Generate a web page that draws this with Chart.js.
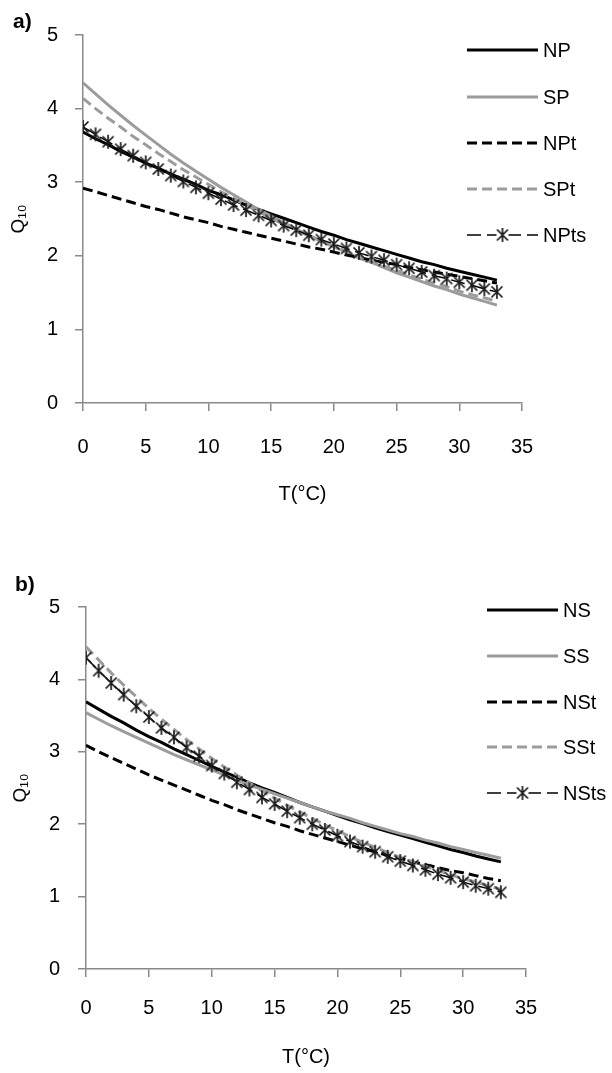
<!DOCTYPE html>
<html><head><meta charset="utf-8">
<script src="https://cdn.jsdelivr.net/npm/chart.js@4.4.1/dist/chart.umd.min.js"></script>
<style>
html,body{margin:0;padding:0;background:#fff;width:612px;height:1073px;overflow:hidden;}
canvas{position:absolute;left:0;}
#ca{top:0;}
#cb{top:515px;}
</style></head><body>
<canvas id="ca" width="612" height="515"></canvas>
<canvas id="cb" width="612" height="558"></canvas>
<script>
// ---- data ----
const T = [0,1,2,3,4,5,6,7,8,9,10,11,12,13,14,15,16,17,18,19,20,21,22,23,24,25,26,27,28,29,30,31,32,33];
const xTicks = [0,5,10,15,20,25,30,35];
const yTicks = [0,1,2,3,4,5];

const namesA = ['NP','SP','NPt','SPt','NPts'];
const NP   = [3.68,3.59,3.51,3.42,3.34,3.26,3.19,3.11,3.04,2.97,2.89,2.83,2.76,2.69,2.63,2.57,2.51,2.45,2.39,2.33,2.28,2.22,2.17,2.12,2.07,2.02,1.97,1.92,1.88,1.83,1.79,1.75,1.71,1.67];
const SP   = [4.35,4.20,4.05,3.91,3.77,3.64,3.51,3.38,3.26,3.15,3.04,2.93,2.83,2.73,2.63,2.54,2.45,2.36,2.28,2.20,2.12,2.05,1.97,1.91,1.84,1.77,1.71,1.65,1.59,1.54,1.48,1.43,1.38,1.33];
const NPt  = [2.92,2.87,2.82,2.77,2.72,2.67,2.63,2.58,2.53,2.49,2.45,2.40,2.36,2.32,2.28,2.24,2.20,2.16,2.12,2.09,2.05,2.01,1.98,1.94,1.91,1.88,1.84,1.81,1.78,1.75,1.72,1.69,1.66,1.63];
const SPt  = [4.14,4.00,3.87,3.75,3.62,3.51,3.39,3.28,3.17,3.07,2.97,2.87,2.78,2.69,2.60,2.51,2.43,2.35,2.27,2.20,2.13,2.06,1.99,1.92,1.86,1.80,1.74,1.68,1.63,1.58,1.52,1.47,1.43,1.38];
const NPts = [3.75,3.65,3.55,3.45,3.36,3.27,3.18,3.09,3.01,2.93,2.85,2.77,2.69,2.62,2.55,2.48,2.41,2.35,2.28,2.22,2.16,2.10,2.04,1.99,1.94,1.88,1.83,1.78,1.73,1.69,1.64,1.60,1.55,1.51];

const namesB = ['NS','SS','NSt','SSt','NSts'];
const NS   = [3.69,3.59,3.49,3.40,3.30,3.21,3.13,3.04,2.96,2.88,2.80,2.72,2.65,2.57,2.50,2.44,2.37,2.30,2.24,2.18,2.12,2.06,2.01,1.95,1.90,1.85,1.80,1.75,1.70,1.65,1.61,1.56,1.52,1.48];
const SS   = [3.54,3.45,3.36,3.28,3.20,3.12,3.04,2.96,2.89,2.82,2.75,2.68,2.61,2.54,2.48,2.42,2.36,2.30,2.24,2.18,2.13,2.08,2.02,1.97,1.92,1.87,1.83,1.78,1.74,1.69,1.65,1.61,1.57,1.53];
const NSt  = [3.09,3.00,2.92,2.84,2.76,2.68,2.61,2.54,2.47,2.40,2.33,2.27,2.20,2.14,2.08,2.02,1.97,1.91,1.86,1.81,1.76,1.71,1.66,1.62,1.57,1.53,1.48,1.44,1.40,1.36,1.33,1.29,1.25,1.22];
const SSt  = [4.45,4.27,4.09,3.92,3.76,3.60,3.45,3.31,3.17,3.04,2.91,2.79,2.68,2.57,2.46,2.36,2.26,2.17,2.08,1.99,1.91,1.83,1.75,1.68,1.61,1.54,1.48,1.42,1.36,1.30,1.25,1.20,1.15,1.10];
const NSts = [4.30,4.12,3.95,3.79,3.63,3.48,3.33,3.20,3.06,2.94,2.81,2.70,2.58,2.48,2.37,2.28,2.18,2.09,2.00,1.92,1.84,1.76,1.69,1.62,1.55,1.49,1.43,1.37,1.31,1.26,1.20,1.15,1.11,1.06];

// ---- styles ----
const FONT = '"Liberation Sans", Arial, Helvetica, sans-serif';
const GRAY = '#9c9c9c';
const AXIS = '#8a8a8a';

// Excel-like star marker (X plus vertical bar)
const star = document.createElement('canvas');
star.width = 16; star.height = 16;
(function(){
  const c = star.getContext('2d');
  c.strokeStyle = '#1a1a1a'; c.lineWidth = 1.7; c.lineCap = 'butt';
  c.beginPath();
  c.moveTo(8,1); c.lineTo(8,15);
  c.moveTo(2.5,2.5); c.lineTo(13.5,13.5);
  c.moveTo(13.5,2.5); c.lineTo(2.5,13.5);
  c.stroke();
})();

const styles = [
  {color:'#000', width:3, dash:[], order:5},
  {color:GRAY, width:3, dash:[], order:4},
  {color:'#000', width:3, dash:[10,5], order:3},
  {color:GRAY, width:3, dash:[10,5], order:2},
  {color:'#000', width:1.5, dash:[14,6], order:1, marker:true}
];

function ds(name, vals, st){
  return {
    label: name,
    data: T.map((t,i)=>({x:t, y:vals[i]})),
    borderColor: st.color, backgroundColor: st.color,
    borderWidth: st.width, borderDash: st.dash,
    pointRadius: st.marker ? 8 : 0,
    pointStyle: st.marker ? star : 'circle',
    pointHoverRadius: 0,
    tension: 0, fill: false, order: st.order
  };
}

const legendPlugin = {
  id: 'customLegend',
  afterDraw(chart){
    const o = chart.options.plugins.customLegend;
    if (!o) return;
    const ctx = chart.ctx;
    ctx.save();
    chart.data.datasets.forEach((d, i) => {
      const y = o.rows[i];
      ctx.beginPath();
      ctx.setLineDash(d.borderDash || []);
      ctx.strokeStyle = d.borderColor;
      ctx.lineWidth = d.borderWidth;
      ctx.moveTo(o.x0, y); ctx.lineTo(o.x1, y);
      ctx.stroke();
      ctx.setLineDash([]);
      if (d.pointStyle === star) {
        ctx.fillStyle = '#fff';
        ctx.fillRect((o.x0+o.x1)/2 - 6, y - 2, 12, 4);
        ctx.drawImage(star, (o.x0+o.x1)/2 - star.width/2, y - star.height/2);
      }
      ctx.fillStyle = '#000';
      ctx.font = '20px ' + FONT;
      ctx.textAlign = 'left';
      ctx.textBaseline = 'middle';
      ctx.fillText(d.label, o.tx, y + 1);
    });
    const p = chart.options.plugins.panelLabel;
    ctx.font = 'bold 21px ' + FONT;
    ctx.fillStyle = '#000';
    ctx.textAlign = 'left';
    ctx.textBaseline = 'middle';
    ctx.fillText(p.text, p.x, p.y);
    ctx.restore();
  }
};

function makeChart(el, names, series, L){
  return new Chart(el, {
    type: 'line',
    data: { datasets: names.map((n,i)=>ds(n, series[i], styles[i])) },
    options: {
      responsive: false, animation: false, devicePixelRatio: 1,
      layout: { padding: { left: 0, right: L.padRight, top: L.padTop, bottom: 0 } },
      plugins: {
        legend: { display: false }, tooltip: { enabled: false },
        customLegend: L.legend, panelLabel: L.label
      },
      scales: {
        x: {
          type: 'linear', min: 0, max: 35,
          afterBuildTicks(s){ s.ticks = xTicks.map(v=>({value:v})); },
          ticks: { padding: L.xTickPad, color: '#000', font: { size: 20, family: FONT } },
          grid: { drawOnChartArea: false, drawTicks: true, tickLength: 8, color: AXIS, lineWidth: 1.5 },
          border: { color: AXIS, width: 1.5 },
          title: { display: true, text: 'T(°C)', color: '#000', font: { size: 20, family: FONT }, padding: { top: 0, bottom: L.xTitlePad } },
          afterFit(s){ s.height = L.xH; s.paddingLeft = 0; s.paddingRight = 0; }
        },
        y: {
          min: 0, max: 5,
          afterBuildTicks(s){ s.ticks = yTicks.map(v=>({value:v})); },
          ticks: { padding: L.yTickPad, color: '#000', font: { size: 20, family: FONT } },
          grid: { drawOnChartArea: false, drawTicks: true, tickLength: 8, color: AXIS, lineWidth: 1.5 },
          border: { color: AXIS, width: 1.5 },
          title: { display: true, text: 'Q₁₀', color: '#000', font: { size: 19, family: FONT }, padding: { top: L.yTitlePad, bottom: 0 } },
          afterFit(s){ s.width = L.yW; s.paddingTop = 0; s.paddingBottom = 0; }
        }
      }
    },
    plugins: [legendPlugin]
  });
}

makeChart(document.getElementById('ca'), namesA, [NP, SP, NPt, SPt, NPts], {
  padRight: 90, padTop: 35, xH: 112, yW: 83,
  xTickPad: 24, xTitlePad: 9, yTickPad: 17, yTitlePad: 7,
  legend: { x0: 467, x1: 538, tx: 543, rows: [50, 97, 143, 189, 235] },
  label: { text: 'a)', x: 13, y: 22 }
});

makeChart(document.getElementById('cb'), namesB, [NS, SS, NSt, SSt, NSts], {
  padRight: 86, padTop: 92, xH: 104, yW: 86,
  xTickPad: 19, xTitlePad: 4, yTickPad: 18, yTitlePad: 9,
  legend: { x0: 487, x1: 558, tx: 563, rows: [95, 141, 187, 232, 278] },
  label: { text: 'b)', x: 15, y: 70 }
});
</script>
</body></html>
